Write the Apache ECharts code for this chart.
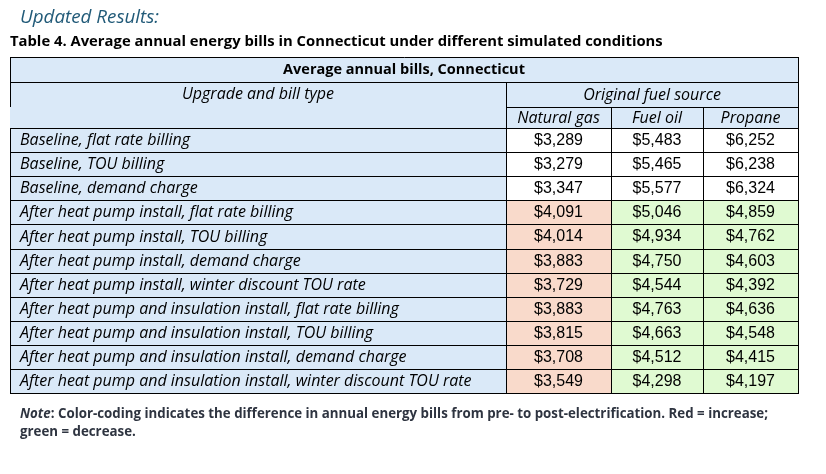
<!DOCTYPE html>
<html><head><meta charset="utf-8">
<script src="https://cdn.jsdelivr.net/npm/echarts@6/dist/echarts.min.js"></script>
<style>html,body{margin:0;padding:0;background:#fff}#c{width:826px;height:474px}</style>
</head><body><div id="c"></div>
<script>
// ---- data ----
const tableTitle = 'Average annual bills, Connecticut';
const rowHeader = 'Upgrade and bill type';
const groupHeader = 'Original fuel source';
const fuelSources = ['Natural gas', 'Fuel oil', 'Propane'];
const rowLabels = [
  'Baseline, flat rate billing',
  'Baseline, TOU billing',
  'Baseline, demand charge',
  'After heat pump install, flat rate billing',
  'After heat pump install, TOU billing',
  'After heat pump install, demand charge',
  'After heat pump install, winter discount TOU rate',
  'After heat pump and insulation install, flat rate billing',
  'After heat pump and insulation install, TOU billing',
  'After heat pump and insulation install, demand charge',
  'After heat pump and insulation install, winter discount TOU rate'
];
const naturalGas = [3289, 3279, 3347, 4091, 4014, 3883, 3729, 3883, 3815, 3708, 3549];
const fuelOil    = [5483, 5465, 5577, 5046, 4934, 4750, 4544, 4763, 4663, 4512, 4298];
const propane    = [6252, 6238, 6324, 4859, 4762, 4603, 4392, 4636, 4548, 4415, 4197];
const seriesValues = [naturalGas, fuelOil, propane];

// ---- layout / style ----
const colW = [496, 105, 92, 95];
const headH = [25, 25, 21];
const rowH = 24.1;
const colors = { head: '#dae9f8', base: '#ffffff', up: '#f9dacb', down: '#e0fad2' };
const fontLabel = 'italic 16px "Open Sans"';
const fontHeadBold = 'bold 14.5px "Open Sans"';
const fontNum = '16px "Liberation Sans", Arial';

const xEdge = [0];
colW.forEach(w => xEdge.push(xEdge[xEdge.length - 1] + w));
const yHead = [0];
headH.forEach(h => yHead.push(yHead[yHead.length - 1] + h));
const totalW = xEdge[xEdge.length - 1];
const totalH = yHead[3] + rowH * rowLabels.length;

const fmt = v => '$' + v.toLocaleString('en-US');
const cells = [];
cells.push({ x0: 0, x1: totalW, y0: yHead[0], y1: yHead[1], text: tableTitle, font: fontHeadBold, align: 'center', fill: colors.head });
cells.push({ x0: 0, x1: xEdge[1], y0: yHead[1], y1: yHead[3], ty: (yHead[1] + yHead[2]) / 2, text: rowHeader, font: fontLabel, align: 'center', fill: colors.head, leftTo: yHead[2] });
cells.push({ x0: xEdge[1], x1: totalW, y0: yHead[1], y1: yHead[2], text: groupHeader, font: fontLabel, align: 'center', fill: colors.head });
fuelSources.forEach((f, j) => cells.push({ x0: xEdge[j + 1], x1: xEdge[j + 2], y0: yHead[2], y1: yHead[3], text: f, font: fontLabel, align: 'center', fill: colors.head }));
rowLabels.forEach((lab, i) => {
  const y0 = yHead[3] + rowH * i, y1 = y0 + rowH;
  const isBase = lab.indexOf('Baseline') === 0;
  cells.push({ x0: 0, x1: xEdge[1], y0, y1, text: lab, font: fontLabel, align: 'left', fill: colors.head });
  seriesValues.forEach((vals, j) => {
    const v = vals[i];
    const fill = isBase ? colors.base : (v > vals[0] ? colors.up : colors.down);
    cells.push({ x0: xEdge[j + 1], x1: xEdge[j + 2], y0, y1, text: fmt(v), font: fontNum, align: 'center', fill });
  });
});

const cellData = cells.map(c => [c.x0, c.y0, c.x1, c.y1]);
function box(api, c) {
  const a = api.coord([c.x0, c.y0]), b = api.coord([c.x1, c.y1]);
  return { x0: Math.round(a[0]), y0: Math.round(a[1]), x1: Math.round(b[0]), y1: Math.round(b[1]) };
}
function fillItem(params, api) {
  const c = cells[params.dataIndex];
  const r = box(api, c);
  return { type: 'rect', shape: { x: r.x0, y: r.y0, width: r.x1 - r.x0, height: r.y1 - r.y0 }, style: { fill: c.fill } };
}
function lineItem(params, api) {
  const c = cells[params.dataIndex];
  const r = box(api, c);
  const ls = { stroke: '#000', lineWidth: 1 };
  const L = (x1, y1, x2, y2) => ({ type: 'line', shape: { x1, y1, x2, y2 }, style: ls });
  const ch = [
    L(r.x0, r.y0 + 0.5, r.x1 + 1, r.y0 + 0.5),
    L(r.x0, r.y1 + 0.5, r.x1 + 1, r.y1 + 0.5),
    L(r.x1 + 0.5, r.y0, r.x1 + 0.5, r.y1 + 1)
  ];
  let leftEnd = r.y1 + 1;
  if (c.leftTo !== undefined) leftEnd = Math.round(api.coord([0, c.leftTo])[1]);
  ch.push(L(r.x0 + 0.5, r.y0, r.x0 + 0.5, leftEnd));
  const ty = c.ty !== undefined ? api.coord([0, c.ty])[1] : (r.y0 + r.y1) / 2 + 0.5;
  const tx = c.align === 'left' ? r.x0 + 10 : (r.x0 + r.x1) / 2;
  ch.push({ type: 'text', style: { text: c.text, x: tx, y: ty, font: c.font, fill: '#000', align: c.align, verticalAlign: 'middle' } });
  return { type: 'group', children: ch };
}

const chart = echarts.init(document.getElementById('c'));
chart.setOption({
  animation: false,
  title: [
    { text: 'Updated Results:', left: 20, top: 8, padding: 0,
      textStyle: { fontFamily: 'Open Sans', fontStyle: 'italic', fontWeight: 'normal', fontSize: 18.8, color: '#215a78' } },
    { text: 'Table 4. Average annual energy bills in Connecticut under different simulated conditions', left: 10, top: 34, padding: 0,
      textStyle: { fontFamily: 'Open Sans', fontWeight: 'bold', fontSize: 14.8, color: '#000' } },
    { text: '{i|Note}{r|: Color-coding indicates the difference in annual energy bills from pre- to post-electrification. Red = increase;}\n{r|green = decrease.}',
      left: 20, top: 405, padding: 0,
      textStyle: { rich: {
        i: { fontFamily: 'Open Sans', fontStyle: 'italic', fontWeight: 'bold', fontSize: 13.3, color: '#2e3440', lineHeight: 18 },
        r: { fontFamily: 'Open Sans', fontWeight: 'bold', fontSize: 13.3, color: '#2e3440', lineHeight: 18 } } } }
  ],
  grid: { left: 10, top: 57, width: totalW, height: totalH },
  xAxis: { type: 'value', min: 0, max: totalW, show: false },
  yAxis: { type: 'value', min: 0, max: totalH, inverse: true, show: false },
  series: [
    { type: 'custom', renderItem: fillItem, data: cellData, encode: { x: [0, 2], y: [1, 3] }, z: 2, silent: true },
    { type: 'custom', renderItem: lineItem, data: cellData, encode: { x: [0, 2], y: [1, 3] }, z: 3, silent: true }
  ]
});
</script></body></html>
